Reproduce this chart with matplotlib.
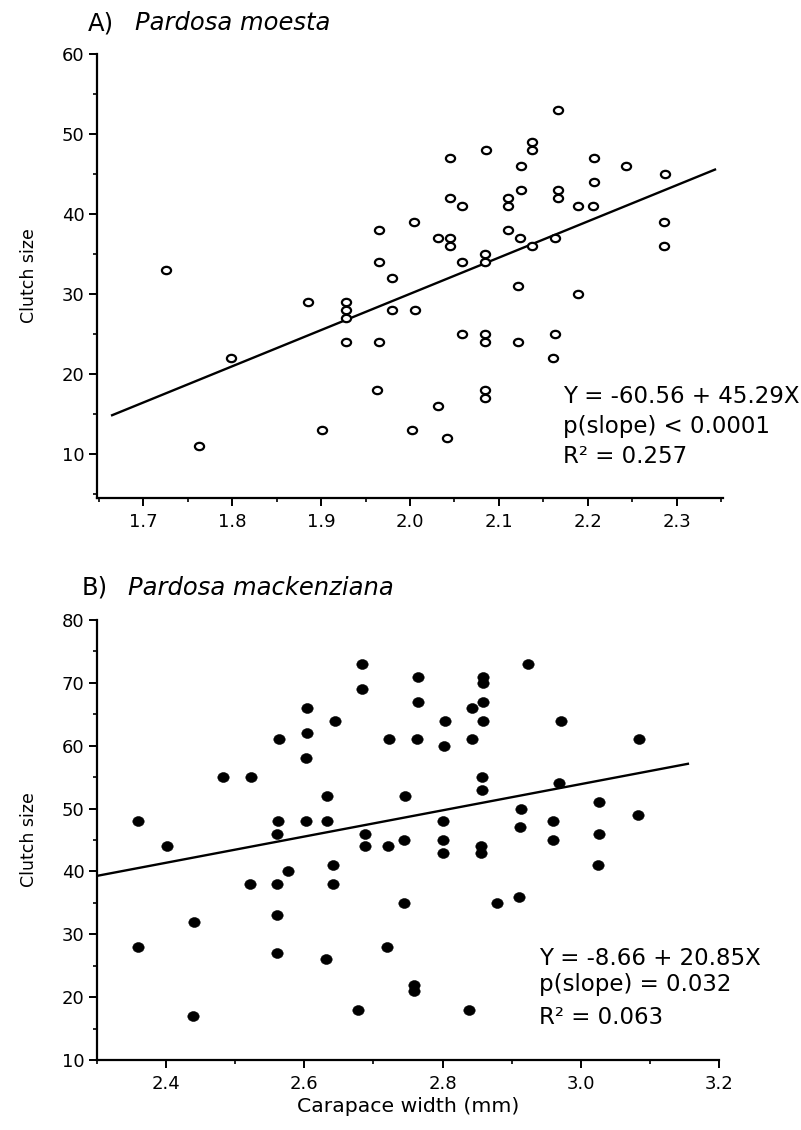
import numpy as np
import matplotlib
matplotlib.use("Agg")
import matplotlib.pyplot as plt
from matplotlib.path import Path
from matplotlib.ticker import MultipleLocator, FormatStrFormatter

plt.rcParams['font.family'] = ['DejaVu Sans']

# ---- Panel A: Pardosa moesta ----
moesta_width = [1.726, 1.763, 1.799, 1.885, 1.901, 1.928, 1.928, 1.928, 1.928,
                1.965, 1.965, 1.965, 1.963, 1.980, 1.980, 2.004, 2.006, 2.002,
                2.031, 2.031, 2.045, 2.045, 2.045, 2.045, 2.042, 2.059, 2.058,
                2.058, 2.086, 2.084, 2.084, 2.084, 2.084, 2.084, 2.084, 2.110,
                2.110, 2.110, 2.125, 2.125, 2.124, 2.122, 2.122, 2.137, 2.137,
                2.137, 2.167, 2.166, 2.166, 2.163, 2.163, 2.161, 2.189, 2.189,
                2.207, 2.207, 2.206, 2.243, 2.287, 2.286, 2.286]
moesta_clutch = [33, 11, 22, 29, 13, 29, 28, 27, 24,
                 38, 34, 24, 18, 32, 28, 39, 28, 13,
                 37, 16, 47, 42, 37, 36, 12, 41, 34,
                 25, 48, 35, 34, 25, 24, 18, 17, 42,
                 41, 38, 46, 43, 37, 31, 24, 49, 48,
                 36, 53, 43, 42, 37, 25, 22, 41, 30,
                 47, 44, 41, 46, 45, 39, 36]
moesta_intercept, moesta_slope = -60.56, 45.29
moesta_fit_range = [1.665, 2.343]
moesta_stats = ["Y = -60.56 + 45.29X", "p(slope) < 0.0001", "R² = 0.257"]

# ---- Panel B: Pardosa mackenziana ----
mack_width = [2.360, 2.359, 2.401, 2.441, 2.439, 2.483, 2.523, 2.521, 2.564,
              2.562, 2.561, 2.560, 2.561, 2.560, 2.577, 2.604, 2.604, 2.603,
              2.602, 2.633, 2.633, 2.631, 2.644, 2.641, 2.641, 2.683, 2.683,
              2.688, 2.688, 2.678, 2.723, 2.721, 2.719, 2.745, 2.744, 2.744,
              2.764, 2.764, 2.763, 2.758, 2.758, 2.803, 2.802, 2.800, 2.800,
              2.800, 2.842, 2.842, 2.838, 2.859, 2.859, 2.859, 2.859, 2.857,
              2.857, 2.855, 2.855, 2.879, 2.923, 2.913, 2.912, 2.911, 2.971,
              2.969, 2.960, 2.960, 3.026, 3.026, 3.025, 3.084, 3.083]
mack_clutch = [48, 28, 44, 32, 17, 55, 55, 38, 61,
               48, 46, 38, 33, 27, 40, 66, 62, 58,
               48, 52, 48, 26, 64, 41, 38, 73, 69,
               46, 44, 18, 61, 44, 28, 52, 45, 35,
               71, 67, 61, 22, 21, 64, 60, 48, 45,
               43, 66, 61, 18, 71, 70, 67, 64, 55,
               53, 44, 43, 35, 73, 50, 47, 36, 64,
               54, 48, 45, 51, 46, 41, 61, 49]
mack_intercept, mack_slope = -8.66, 20.85
mack_fit_range = [2.30, 3.155]
mack_stats = ["Y = -8.66 + 20.85X", "p(slope) = 0.032", "R² = 0.063"]

# slightly flattened circle used as the plotting symbol
_circ = Path.unit_circle()


def oval(ratio):
    return Path(_circ.vertices * np.array([1.0, ratio]), _circ.codes)


W, H = 801, 1130
fig = plt.figure(figsize=(W / 100, H / 100), dpi=100)
axA = fig.add_axes([97 / W, 1 - 498 / H, 626 / W, 444 / H])
axB = fig.add_axes([97 / W, 1 - 1060 / H, 622 / W, 440 / H])


def style_axes(ax, xmajor, xminor, ymajor, yminor):
    for s in ('top', 'right'):
        ax.spines[s].set_visible(False)
    for s in ('left', 'bottom'):
        ax.spines[s].set_linewidth(1.6)
    ax.xaxis.set_major_locator(MultipleLocator(xmajor))
    ax.xaxis.set_minor_locator(MultipleLocator(xminor))
    ax.yaxis.set_major_locator(MultipleLocator(ymajor))
    ax.yaxis.set_minor_locator(MultipleLocator(yminor))
    ax.xaxis.set_major_formatter(FormatStrFormatter('%.1f'))
    ax.tick_params(which='major', direction='out', length=6, width=1.4,
                   labelsize=13, color='black')
    ax.tick_params(which='minor', direction='out', length=3, width=1.2)
    ax.tick_params(axis='x', which='major', pad=5)
    ax.tick_params(axis='y', which='major', pad=3)


# Panel A
axA.plot(moesta_width, moesta_clutch, linestyle='none', marker=oval(0.8),
         markersize=6.6, markerfacecolor='white', markeredgecolor='black',
         markeredgewidth=1.6, zorder=3)
fx = np.array(moesta_fit_range)
axA.plot(fx, moesta_intercept + moesta_slope * fx, color='black', lw=1.7,
         zorder=2)
axA.set_xlim(1.648, 2.352)
axA.set_ylim(4.5, 60)
style_axes(axA, 0.1, 0.05, 10, 5)
axA.set_ylabel("Clutch size", fontsize=12.5)
axA.yaxis.set_label_coords(-0.094, 0.5)
for txt, yb in zip(moesta_stats, [0.214, 0.146, 0.079]):
    axA.text(0.744, yb, txt, transform=axA.transAxes, fontsize=16.5,
             ha='left', va='baseline')

# Panel B
axB.plot(mack_width, mack_clutch, linestyle='none', marker=oval(0.87),
         markersize=8.2, markerfacecolor='black', markeredgecolor='black',
         markeredgewidth=0.4, zorder=3)
fx = np.array(mack_fit_range)
axB.plot(fx, mack_intercept + mack_slope * fx, color='black', lw=1.7,
         zorder=2)
axB.set_xlim(2.3, 3.2)
axB.set_ylim(10, 80)
style_axes(axB, 0.2, 0.1, 10, 5)
axB.set_ylabel("Clutch size", fontsize=12.5)
axB.yaxis.set_label_coords(-0.095, 0.5)
axB.set_xlabel("Carapace width (mm)", fontsize=14.7)
axB.xaxis.set_label_coords(0.5, -0.084)
for txt, yb in zip(mack_stats, [0.216, 0.157, 0.082]):
    axB.text(0.711, yb, txt, transform=axB.transAxes, fontsize=16.5,
             ha='left', va='baseline')

# Panel headings
fig.text(88 / W, 1 - 30.5 / H, "A)", fontsize=17.5, va='baseline')
fig.text(135 / W, 1 - 30.5 / H, "Pardosa moesta", fontsize=17.5,
         style='italic', va='baseline')
fig.text(82 / W, 1 - 595 / H, "B)", fontsize=17.5, va='baseline')
fig.text(128 / W, 1 - 595 / H, "Pardosa mackenziana", fontsize=17.5,
         style='italic', va='baseline')

fig.savefig("out.png", dpi=100, facecolor='white')
